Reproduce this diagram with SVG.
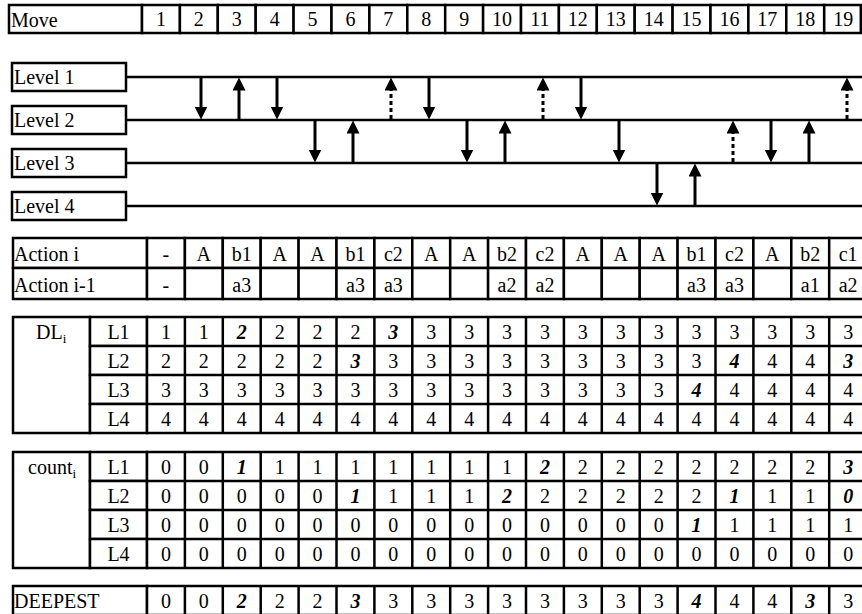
<svg xmlns="http://www.w3.org/2000/svg" width="862" height="614" viewBox="0 0 862 614">
<style>
.b{fill:#fff;stroke:#000;stroke-width:2.5}
.t{font-family:"Liberation Serif","Times New Roman",serif;font-size:20px;fill:#000}
.c{text-anchor:middle}
.bi{font-weight:bold;font-style:italic}
.sub{font-size:13px}
.ln{stroke:#000;stroke-width:2.5;fill:none}
.ar{stroke:#000;stroke-width:3;fill:none;marker-end:url(#ah)}
.dt{stroke-dasharray:4 3}
</style>
<defs>
<marker id="ah" viewBox="0 0 13 13" refX="0.5" refY="6.5" markerWidth="13" markerHeight="13" markerUnits="userSpaceOnUse" orient="auto">
<path d="M0,0 L13,6.5 L0,13 z" fill="#000"/>
</marker>
</defs>
<rect width="862" height="614" fill="#fff"/>

<g id="move-row">
<rect class="b" x="9" y="5" width="133" height="28"/>
<text class="t" x="11" y="27">Move</text>
<g id="move-cells">
<rect class="b" x="142" y="5" width="37.9" height="28"/><text class="t c" x="161" y="26">1</text>
<rect class="b" x="179.9" y="5" width="37.9" height="28"/><text class="t c" x="198.85" y="26">2</text>
<rect class="b" x="217.8" y="5" width="37.9" height="28"/><text class="t c" x="236.75" y="26">3</text>
<rect class="b" x="255.7" y="5" width="37.9" height="28"/><text class="t c" x="274.65" y="26">4</text>
<rect class="b" x="293.6" y="5" width="37.9" height="28"/><text class="t c" x="312.55" y="26">5</text>
<rect class="b" x="331.5" y="5" width="37.9" height="28"/><text class="t c" x="350.45" y="26">6</text>
<rect class="b" x="369.4" y="5" width="37.9" height="28"/><text class="t c" x="388.35" y="26">7</text>
<rect class="b" x="407.3" y="5" width="37.9" height="28"/><text class="t c" x="426.25" y="26">8</text>
<rect class="b" x="445.2" y="5" width="37.9" height="28"/><text class="t c" x="464.15" y="26">9</text>
<rect class="b" x="483.1" y="5" width="37.9" height="28"/><text class="t c" x="502.05" y="26">10</text>
<rect class="b" x="521" y="5" width="37.9" height="28"/><text class="t c" x="539.95" y="26">11</text>
<rect class="b" x="558.9" y="5" width="37.9" height="28"/><text class="t c" x="577.85" y="26">12</text>
<rect class="b" x="596.8" y="5" width="37.9" height="28"/><text class="t c" x="615.75" y="26">13</text>
<rect class="b" x="634.7" y="5" width="37.9" height="28"/><text class="t c" x="653.65" y="26">14</text>
<rect class="b" x="672.6" y="5" width="37.9" height="28"/><text class="t c" x="691.55" y="26">15</text>
<rect class="b" x="710.5" y="5" width="37.9" height="28"/><text class="t c" x="729.45" y="26">16</text>
<rect class="b" x="748.4" y="5" width="37.9" height="28"/><text class="t c" x="767.35" y="26">17</text>
<rect class="b" x="786.3" y="5" width="37.9" height="28"/><text class="t c" x="805.25" y="26">18</text>
<rect class="b" x="824.2" y="5" width="36.6" height="28"/><text class="t c" x="843.15" y="26">19</text>
</g>
</g>

<g id="level-lines">
<line class="ln" x1="126" y1="77" x2="862" y2="77"/>
<line class="ln" x1="126" y1="120" x2="862" y2="120"/>
<line class="ln" x1="126" y1="163" x2="862" y2="163"/>
<line class="ln" x1="126" y1="206" x2="862" y2="206"/>
</g>
<g id="level1"><rect class="b" x="12" y="63" width="114" height="28"/><text class="t" x="14" y="84">Level 1</text></g>
<g id="level2"><rect class="b" x="12" y="106" width="114" height="28"/><text class="t" x="14" y="127">Level 2</text></g>
<g id="level3"><rect class="b" x="12" y="149" width="114" height="28"/><text class="t" x="14" y="170">Level 3</text></g>
<g id="level4"><rect class="b" x="12" y="192" width="114" height="28"/><text class="t" x="14" y="213">Level 4</text></g>

<g id="connectors">
<line class="ar" x1="201" y1="77" x2="201" y2="107"/>
<line class="ar" x1="239" y1="120" x2="239" y2="90"/>
<line class="ar" x1="277" y1="77" x2="277" y2="107"/>
<line class="ar" x1="315" y1="120" x2="315" y2="150"/>
<line class="ar" x1="353" y1="163" x2="353" y2="133"/>
<line class="ar dt" x1="391" y1="119" x2="391" y2="90"/>
<line class="ar" x1="429" y1="77" x2="429" y2="107"/>
<line class="ar" x1="467" y1="120" x2="467" y2="150"/>
<line class="ar" x1="505" y1="163" x2="505" y2="133"/>
<line class="ar dt" x1="543" y1="119" x2="543" y2="90"/>
<line class="ar" x1="581" y1="77" x2="581" y2="107"/>
<line class="ar" x1="619" y1="120" x2="619" y2="150"/>
<line class="ar" x1="657" y1="163" x2="657" y2="193"/>
<line class="ar" x1="695" y1="206" x2="695" y2="176"/>
<line class="ar dt" x1="733" y1="162" x2="733" y2="133"/>
<line class="ar" x1="771" y1="120" x2="771" y2="150"/>
<line class="ar" x1="809" y1="163" x2="809" y2="133"/>
<line class="ar dt" x1="847" y1="119" x2="847" y2="90"/>
</g>

<g id="action-table">
<rect class="b" x="13" y="238" width="134" height="30"/><text class="t" x="14" y="261">Action i</text>
<rect class="b" x="13" y="268" width="134" height="31"/><text class="t" x="14" y="292">Action i-1</text>
<g id="action-cells">
<rect class="b" x="147" y="238" width="37.9" height="30"/><rect class="b" x="147" y="268" width="37.9" height="31"/>
<rect class="b" x="184.9" y="238" width="37.9" height="30"/><rect class="b" x="184.9" y="268" width="37.9" height="31"/>
<rect class="b" x="222.8" y="238" width="37.9" height="30"/><rect class="b" x="222.8" y="268" width="37.9" height="31"/>
<rect class="b" x="260.7" y="238" width="37.9" height="30"/><rect class="b" x="260.7" y="268" width="37.9" height="31"/>
<rect class="b" x="298.6" y="238" width="37.9" height="30"/><rect class="b" x="298.6" y="268" width="37.9" height="31"/>
<rect class="b" x="336.5" y="238" width="37.9" height="30"/><rect class="b" x="336.5" y="268" width="37.9" height="31"/>
<rect class="b" x="374.4" y="238" width="37.9" height="30"/><rect class="b" x="374.4" y="268" width="37.9" height="31"/>
<rect class="b" x="412.3" y="238" width="37.9" height="30"/><rect class="b" x="412.3" y="268" width="37.9" height="31"/>
<rect class="b" x="450.2" y="238" width="37.9" height="30"/><rect class="b" x="450.2" y="268" width="37.9" height="31"/>
<rect class="b" x="488.1" y="238" width="37.9" height="30"/><rect class="b" x="488.1" y="268" width="37.9" height="31"/>
<rect class="b" x="526" y="238" width="37.9" height="30"/><rect class="b" x="526" y="268" width="37.9" height="31"/>
<rect class="b" x="563.9" y="238" width="37.9" height="30"/><rect class="b" x="563.9" y="268" width="37.9" height="31"/>
<rect class="b" x="601.8" y="238" width="37.9" height="30"/><rect class="b" x="601.8" y="268" width="37.9" height="31"/>
<rect class="b" x="639.7" y="238" width="37.9" height="30"/><rect class="b" x="639.7" y="268" width="37.9" height="31"/>
<rect class="b" x="677.6" y="238" width="37.9" height="30"/><rect class="b" x="677.6" y="268" width="37.9" height="31"/>
<rect class="b" x="715.5" y="238" width="37.9" height="30"/><rect class="b" x="715.5" y="268" width="37.9" height="31"/>
<rect class="b" x="753.4" y="238" width="37.9" height="30"/><rect class="b" x="753.4" y="268" width="37.9" height="31"/>
<rect class="b" x="791.3" y="238" width="37.9" height="30"/><rect class="b" x="791.3" y="268" width="37.9" height="31"/>
<rect class="b" x="829.2" y="238" width="37.9" height="30"/><rect class="b" x="829.2" y="268" width="37.9" height="31"/>
</g>
<g class="t c">
<text x="165.95" y="261">-</text><text x="203.85" y="261">A</text><text x="241.75" y="261">b1</text><text x="279.65" y="261">A</text><text x="317.55" y="261">A</text><text x="355.45" y="261">b1</text><text x="393.35" y="261">c2</text><text x="431.25" y="261">A</text><text x="469.15" y="261">A</text><text x="507.05" y="261">b2</text><text x="544.95" y="261">c2</text><text x="582.85" y="261">A</text><text x="620.75" y="261">A</text><text x="658.65" y="261">A</text><text x="696.55" y="261">b1</text><text x="734.45" y="261">c2</text><text x="772.35" y="261">A</text><text x="810.25" y="261">b2</text><text x="848.15" y="261">c1</text>
<text x="165.95" y="292">-</text><text x="241.75" y="292">a3</text><text x="355.45" y="292">a3</text><text x="393.35" y="292">a3</text><text x="507.05" y="292">a2</text><text x="544.95" y="292">a2</text><text x="696.55" y="292">a3</text><text x="734.45" y="292">a3</text><text x="810.25" y="292">a1</text><text x="848.15" y="292">a2</text>
</g>
</g>

<g id="dl-table">
<rect class="b" x="13" y="317" width="77" height="116"/>
<text class="t" x="36" y="339">DL<tspan class="sub" dy="4">i</tspan></text>
<g id="dl-grid">
<rect class="b" x="90" y="317" width="57" height="29"/><rect class="b" x="90" y="346" width="57" height="29"/><rect class="b" x="90" y="375" width="57" height="29"/><rect class="b" x="90" y="404" width="57" height="29"/>
<rect class="b" x="147" y="317" width="720" height="116"/>
<line class="ln" x1="147" y1="346" x2="867" y2="346"/><line class="ln" x1="147" y1="375" x2="867" y2="375"/><line class="ln" x1="147" y1="404" x2="867" y2="404"/>
<path class="ln" d="M184.9,317V433M222.8,317V433M260.7,317V433M298.6,317V433M336.5,317V433M374.4,317V433M412.3,317V433M450.2,317V433M488.1,317V433M526,317V433M563.9,317V433M601.8,317V433M639.7,317V433M677.6,317V433M715.5,317V433M753.4,317V433M791.3,317V433M829.2,317V433"/>
</g>
<g class="t c">
<text x="118.5" y="339">L1</text><text x="118.5" y="368">L2</text><text x="118.5" y="397">L3</text><text x="118.5" y="426">L4</text>
<text x="165.95" y="339">1</text><text x="203.85" y="339">1</text><text class="bi" x="241.75" y="339">2</text><text x="279.65" y="339">2</text><text x="317.55" y="339">2</text><text x="355.45" y="339">2</text><text class="bi" x="393.35" y="339">3</text><text x="431.25" y="339">3</text><text x="469.15" y="339">3</text><text x="507.05" y="339">3</text><text x="544.95" y="339">3</text><text x="582.85" y="339">3</text><text x="620.75" y="339">3</text><text x="658.65" y="339">3</text><text x="696.55" y="339">3</text><text x="734.45" y="339">3</text><text x="772.35" y="339">3</text><text x="810.25" y="339">3</text><text x="848.15" y="339">3</text>
<text x="165.95" y="368">2</text><text x="203.85" y="368">2</text><text x="241.75" y="368">2</text><text x="279.65" y="368">2</text><text x="317.55" y="368">2</text><text class="bi" x="355.45" y="368">3</text><text x="393.35" y="368">3</text><text x="431.25" y="368">3</text><text x="469.15" y="368">3</text><text x="507.05" y="368">3</text><text x="544.95" y="368">3</text><text x="582.85" y="368">3</text><text x="620.75" y="368">3</text><text x="658.65" y="368">3</text><text x="696.55" y="368">3</text><text class="bi" x="734.45" y="368">4</text><text x="772.35" y="368">4</text><text x="810.25" y="368">4</text><text class="bi" x="848.15" y="368">3</text>
<text x="165.95" y="397">3</text><text x="203.85" y="397">3</text><text x="241.75" y="397">3</text><text x="279.65" y="397">3</text><text x="317.55" y="397">3</text><text x="355.45" y="397">3</text><text x="393.35" y="397">3</text><text x="431.25" y="397">3</text><text x="469.15" y="397">3</text><text x="507.05" y="397">3</text><text x="544.95" y="397">3</text><text x="582.85" y="397">3</text><text x="620.75" y="397">3</text><text x="658.65" y="397">3</text><text class="bi" x="696.55" y="397">4</text><text x="734.45" y="397">4</text><text x="772.35" y="397">4</text><text x="810.25" y="397">4</text><text x="848.15" y="397">4</text>
<text x="165.95" y="426">4</text><text x="203.85" y="426">4</text><text x="241.75" y="426">4</text><text x="279.65" y="426">4</text><text x="317.55" y="426">4</text><text x="355.45" y="426">4</text><text x="393.35" y="426">4</text><text x="431.25" y="426">4</text><text x="469.15" y="426">4</text><text x="507.05" y="426">4</text><text x="544.95" y="426">4</text><text x="582.85" y="426">4</text><text x="620.75" y="426">4</text><text x="658.65" y="426">4</text><text x="696.55" y="426">4</text><text x="734.45" y="426">4</text><text x="772.35" y="426">4</text><text x="810.25" y="426">4</text><text x="848.15" y="426">4</text>
</g>
</g>

<g id="count-table">
<rect class="b" x="13" y="452" width="77" height="116"/>
<text class="t" x="28" y="474">count<tspan class="sub" dy="4">i</tspan></text>
<g id="count-grid">
<rect class="b" x="90" y="452" width="57" height="29"/><rect class="b" x="90" y="481" width="57" height="29"/><rect class="b" x="90" y="510" width="57" height="29"/><rect class="b" x="90" y="539" width="57" height="29"/>
<rect class="b" x="147" y="452" width="720" height="116"/>
<line class="ln" x1="147" y1="481" x2="867" y2="481"/><line class="ln" x1="147" y1="510" x2="867" y2="510"/><line class="ln" x1="147" y1="539" x2="867" y2="539"/>
<path class="ln" d="M184.9,452V568M222.8,452V568M260.7,452V568M298.6,452V568M336.5,452V568M374.4,452V568M412.3,452V568M450.2,452V568M488.1,452V568M526,452V568M563.9,452V568M601.8,452V568M639.7,452V568M677.6,452V568M715.5,452V568M753.4,452V568M791.3,452V568M829.2,452V568"/>
</g>
<g class="t c">
<text x="118.5" y="474">L1</text><text x="118.5" y="503">L2</text><text x="118.5" y="532">L3</text><text x="118.5" y="561">L4</text>
<text x="165.95" y="474">0</text><text x="203.85" y="474">0</text><text class="bi" x="241.75" y="474">1</text><text x="279.65" y="474">1</text><text x="317.55" y="474">1</text><text x="355.45" y="474">1</text><text x="393.35" y="474">1</text><text x="431.25" y="474">1</text><text x="469.15" y="474">1</text><text x="507.05" y="474">1</text><text class="bi" x="544.95" y="474">2</text><text x="582.85" y="474">2</text><text x="620.75" y="474">2</text><text x="658.65" y="474">2</text><text x="696.55" y="474">2</text><text x="734.45" y="474">2</text><text x="772.35" y="474">2</text><text x="810.25" y="474">2</text><text class="bi" x="848.15" y="474">3</text>
<text x="165.95" y="503">0</text><text x="203.85" y="503">0</text><text x="241.75" y="503">0</text><text x="279.65" y="503">0</text><text x="317.55" y="503">0</text><text class="bi" x="355.45" y="503">1</text><text x="393.35" y="503">1</text><text x="431.25" y="503">1</text><text x="469.15" y="503">1</text><text class="bi" x="507.05" y="503">2</text><text x="544.95" y="503">2</text><text x="582.85" y="503">2</text><text x="620.75" y="503">2</text><text x="658.65" y="503">2</text><text x="696.55" y="503">2</text><text class="bi" x="734.45" y="503">1</text><text x="772.35" y="503">1</text><text x="810.25" y="503">1</text><text class="bi" x="848.15" y="503">0</text>
<text x="165.95" y="532">0</text><text x="203.85" y="532">0</text><text x="241.75" y="532">0</text><text x="279.65" y="532">0</text><text x="317.55" y="532">0</text><text x="355.45" y="532">0</text><text x="393.35" y="532">0</text><text x="431.25" y="532">0</text><text x="469.15" y="532">0</text><text x="507.05" y="532">0</text><text x="544.95" y="532">0</text><text x="582.85" y="532">0</text><text x="620.75" y="532">0</text><text x="658.65" y="532">0</text><text class="bi" x="696.55" y="532">1</text><text x="734.45" y="532">1</text><text x="772.35" y="532">1</text><text x="810.25" y="532">1</text><text x="848.15" y="532">1</text>
<text x="165.95" y="561">0</text><text x="203.85" y="561">0</text><text x="241.75" y="561">0</text><text x="279.65" y="561">0</text><text x="317.55" y="561">0</text><text x="355.45" y="561">0</text><text x="393.35" y="561">0</text><text x="431.25" y="561">0</text><text x="469.15" y="561">0</text><text x="507.05" y="561">0</text><text x="544.95" y="561">0</text><text x="582.85" y="561">0</text><text x="620.75" y="561">0</text><text x="658.65" y="561">0</text><text x="696.55" y="561">0</text><text x="734.45" y="561">0</text><text x="772.35" y="561">0</text><text x="810.25" y="561">0</text><text x="848.15" y="561">0</text>
</g>
</g>

<g id="deepest-row">
<rect class="b" x="13" y="586" width="134" height="29"/>
<text class="t" x="14" y="608">DEEPEST</text>
<rect class="b" x="147" y="586" width="720" height="29"/>
<path class="ln" d="M184.9,586V615M222.8,586V615M260.7,586V615M298.6,586V615M336.5,586V615M374.4,586V615M412.3,586V615M450.2,586V615M488.1,586V615M526,586V615M563.9,586V615M601.8,586V615M639.7,586V615M677.6,586V615M715.5,586V615M753.4,586V615M791.3,586V615M829.2,586V615"/>
<g class="t c">
<text x="165.95" y="608">0</text><text x="203.85" y="608">0</text><text class="bi" x="241.75" y="608">2</text><text x="279.65" y="608">2</text><text x="317.55" y="608">2</text><text class="bi" x="355.45" y="608">3</text><text x="393.35" y="608">3</text><text x="431.25" y="608">3</text><text x="469.15" y="608">3</text><text x="507.05" y="608">3</text><text x="544.95" y="608">3</text><text x="582.85" y="608">3</text><text x="620.75" y="608">3</text><text x="658.65" y="608">3</text><text class="bi" x="696.55" y="608">4</text><text x="734.45" y="608">4</text><text x="772.35" y="608">4</text><text class="bi" x="810.25" y="608">3</text><text x="848.15" y="608">3</text>
</g>
</g>
</svg>
